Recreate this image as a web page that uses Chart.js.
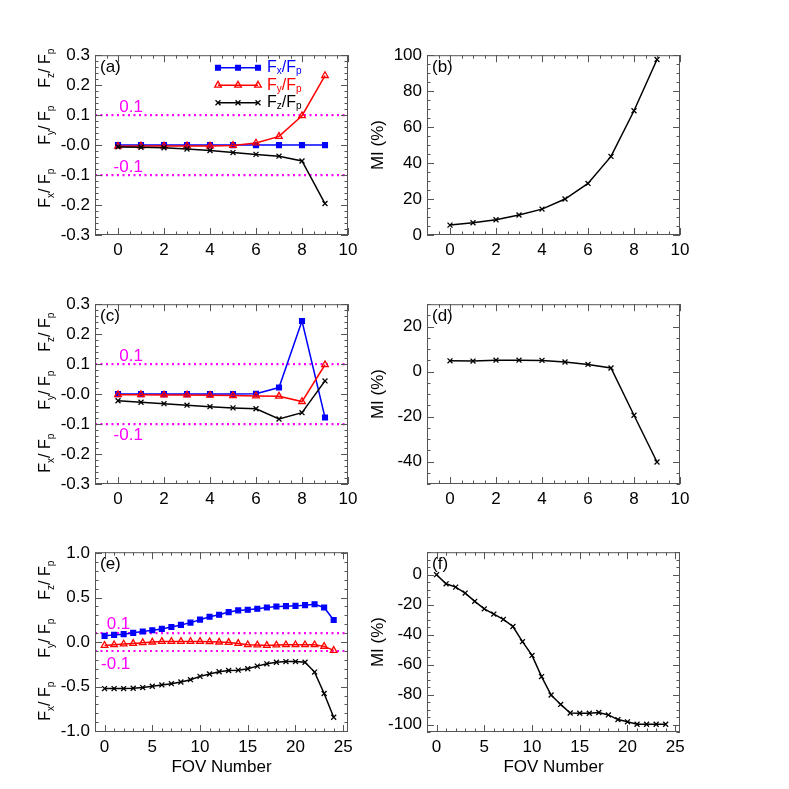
<!DOCTYPE html>
<html>
<head>
<meta charset="utf-8">
<script src="https://cdn.jsdelivr.net/npm/chart.js@4.4.1/dist/chart.umd.min.js"></script>
<style>
  body { margin: 0; background: #fff; }
  #wrap { position: relative; width: 789px; height: 789px; overflow: hidden; }
  #wrap canvas { position: absolute; }
</style>
</head>
<body>
<div id="wrap"></div>
<script>
// ---- data ----
const fovShort = [0, 1, 2, 3, 4, 5, 6, 7, 8, 9];
const fovLong = [0, 1, 2, 3, 4, 5, 6, 7, 8, 9, 10, 11, 12, 13, 14, 15, 16, 17, 18, 19, 20, 21, 22, 23, 24];

// panel (a)
const fxA = [0.000, 0.000, 0.000, 0.000, 0.000, 0.000, 0.000, 0.000, 0.000, 0.000];
const fyA = [-0.004, -0.003, -0.003, -0.003, -0.003, -0.001, 0.007, 0.029, 0.098, 0.232];
const fzA = [-0.006, -0.007, -0.009, -0.013, -0.018, -0.025, -0.031, -0.037, -0.053, -0.195];
// panel (b)
const miB = [5.5, 6.8, 8.5, 11.1, 14.4, 20.0, 28.7, 43.7, 69.1, 97.6];
// panel (c)
const fxC = [0.000, 0.000, 0.000, 0.000, 0.000, 0.000, 0.001, 0.022, 0.244, -0.078];
const fyC = [-0.002, -0.002, -0.003, -0.003, -0.004, -0.005, -0.006, -0.007, -0.025, 0.098];
const fzC = [-0.022, -0.027, -0.032, -0.037, -0.042, -0.046, -0.049, -0.083, -0.062, 0.044];
// panel (d)
const miD = [4.8, 4.7, 5.1, 5.1, 5.0, 4.3, 3.2, 1.6, -19.4, -40.2];
// panel (e)
const fxE = [0.070, 0.081, 0.089, 0.104, 0.119, 0.133, 0.148, 0.170, 0.193, 0.219, 0.252, 0.285, 0.307,
             0.337, 0.356, 0.363, 0.374, 0.389, 0.400, 0.404, 0.407, 0.415, 0.426, 0.389, 0.248];
const fyE = [-0.037, -0.030, -0.022, -0.015, -0.007, 0.000, 0.007, 0.007, 0.007, 0.007, 0.007, 0.004, 0.000,
             -0.004, -0.015, -0.030, -0.033, -0.037, -0.033, -0.030, -0.030, -0.030, -0.030, -0.048, -0.093];
const fzE = [-0.522, -0.522, -0.522, -0.519, -0.511, -0.496, -0.481, -0.467, -0.448, -0.422, -0.385, -0.359, -0.333,
             -0.319, -0.315, -0.300, -0.270, -0.244, -0.226, -0.219, -0.219, -0.226, -0.337, -0.578, -0.844];
// panel (f)
const miF = [0.0, -6.1, -8.3, -12.3, -17.8, -22.8, -26.3, -29.8, -34.6, -44.7, -53.9, -68.0, -80.3,
             -86.6, -92.3, -92.5, -92.5, -92.0, -93.6, -96.7, -98.2, -99.8, -99.8, -99.8, -99.8];

// threshold lines
const levels = [0.1, -0.1];
const levelLabels = ['0.1', '-0.1'];

// ticks
const xTicksShort = [0, 2, 4, 6, 8, 10];
const xTicksLong = [0, 5, 10, 15, 20, 25];
const yTicksSmall = [-0.3, -0.2, -0.1, 0, 0.1, 0.2, 0.3];
const yLabelsSmall = ['-0.3', '-0.2', '-0.1', '-0.0', '0.1', '0.2', '0.3'];
const yTicksBig = [-1, -0.5, 0, 0.5, 1];
const yLabelsBig = ['-1.0', '-0.5', '0.0', '0.5', '1.0'];
const yTicksB = [0, 20, 40, 60, 80, 100];
const yTicksD = [-40, -20, 0, 20];
const yTicksF = [-100, -80, -60, -40, -20, 0];

const FONT = '"Liberation Sans", Arial, Helvetica, sans-serif';
Chart.defaults.font.family = FONT;
Chart.defaults.font.size = 17;
Chart.defaults.color = '#000';

const colLeft = [95, 427], colW = 253;
const rowTop = [54, 303, 551], rowH = 181;

function subText(ctx, parts, x, y, size, align) {
  const big = size + 'px ' + FONT, small = Math.round(size * 0.65) + 'px ' + FONT;
  let w = 0;
  parts.forEach(([t, s]) => { ctx.font = s ? small : big; w += ctx.measureText(t).width; });
  let cx = align === 'center' ? x - w / 2 : x;
  ctx.textAlign = 'left';
  parts.forEach(([t, s]) => {
    ctx.font = s ? small : big;
    ctx.fillText(t, cx, s ? y + size * 0.25 : y);
    cx += ctx.measureText(t).width;
  });
}
const fPartsTitle = c => [['F', 0], [c, 1], ['/ F', 0], ['p', 1]];
const fPartsLegend = c => [['F', 0], [c, 1], ['/F', 0], ['p', 1]];

const seriesStyle = {
  x: { color: '#0000ff', pointStyle: 'rect', radius: 3.4, fill: '#0000ff' },
  y: { color: '#ff0000', pointStyle: 'triangle', radius: 3.8, fill: 'rgba(0,0,0,0)' },
  z: { color: '#000000', pointStyle: 'crossRot', radius: 3.5, fill: '#000' }
};

const framePlugin = {
  id: 'frame',
  afterDraw(chart, args, o) {
    const ctx = chart.ctx, a = chart.chartArea, p = o.panel;
    const xs = chart.scales.x, ys = chart.scales.y;
    ctx.save();
    // ticks on all four sides
    ctx.strokeStyle = '#555';
    ctx.lineWidth = 1;
    ctx.beginPath();
    const tickX = (v, len) => {
      const px = Math.round(xs.getPixelForValue(v)) + 0.5;
      ctx.moveTo(px, a.bottom); ctx.lineTo(px, a.bottom - len);
      ctx.moveTo(px, a.top); ctx.lineTo(px, a.top + len);
    };
    const tickY = (v, len) => {
      const py = Math.round(ys.getPixelForValue(v)) + 0.5;
      ctx.moveTo(a.left, py); ctx.lineTo(a.left + len, py);
      ctx.moveTo(a.right, py); ctx.lineTo(a.right - len, py);
    };
    for (let v = Math.ceil(p.xMin / p.xMinor) * p.xMinor; v <= p.xMax + 1e-9; v += p.xMinor) tickX(v, 3.5);
    for (let v = Math.ceil(p.yMin / p.yMinor) * p.yMinor; v <= p.yMax + 1e-9; v += p.yMinor) tickY(v, 3.5);
    p.xTicks.forEach(v => tickX(v, 7));
    p.yTicks.forEach(v => tickY(v, 7));
    ctx.stroke();
    ctx.strokeRect(a.left + 0.5, a.top + 0.5, a.right - a.left - 1, a.bottom - a.top - 1);

    // panel letter
    ctx.fillStyle = '#000';
    ctx.font = '17px ' + FONT;
    ctx.textAlign = 'left';
    ctx.textBaseline = 'middle';
    ctx.fillText(p.letter, a.left + 5, a.top + 12);

    // y titles
    if (p.kind === 'F') {
      ['z', 'y', 'x'].forEach((c, i) => {
        ctx.save();
        ctx.translate(a.left - 45, a.top + p.titleOff[i]);
        ctx.rotate(-Math.PI / 2);
        ctx.textBaseline = 'alphabetic';
        subText(ctx, fPartsTitle(c), 0, 0, 16, 'center');
        ctx.restore();
      });
      // threshold labels
      ctx.fillStyle = '#ff00ff';
      ctx.font = '17px ' + FONT;
      ctx.textAlign = 'right';
      ctx.textBaseline = 'middle';
      levels.forEach((lv, i) => {
        const py = ys.getPixelForValue(lv) + p.levelOff[i];
        ctx.fillText(levelLabels[i], xs.getPixelForValue(p.levelX), py);
      });
    } else {
      ctx.save();
      ctx.translate(a.left - 49, (a.top + a.bottom) / 2);
      ctx.rotate(-Math.PI / 2);
      ctx.textAlign = 'center';
      ctx.textBaseline = 'middle';
      ctx.font = '17px ' + FONT;
      ctx.fillText('MI (%)', 0, 0);
      ctx.restore();
    }

    if (p.xTitle) {
      ctx.fillStyle = '#000';
      ctx.font = '17px ' + FONT;
      ctx.textAlign = 'center';
      ctx.textBaseline = 'middle';
      ctx.fillText('FOV Number', (a.left + a.right) / 2, a.bottom + 35);
    }

    // legend (panel a only)
    if (p.legend) {
      ['x', 'y', 'z'].forEach((c, i) => {
        const st = seriesStyle[c];
        const y = a.top + 12.5 + i * 17.5;
        const x0 = a.left + 123, x1 = a.left + 163;
        ctx.strokeStyle = st.color;
        ctx.fillStyle = st.fill;
        ctx.lineWidth = 1.5;
        ctx.beginPath(); ctx.moveTo(x0, y); ctx.lineTo(x1, y); ctx.stroke();
        [x0, (x0 + x1) / 2, x1].forEach(mx => {
          ctx.lineWidth = 1.3;
          Chart.helpers.drawPoint(ctx, { pointStyle: st.pointStyle, radius: st.radius, rotation: 0, borderWidth: 1.3 }, mx, y);
        });
        ctx.fillStyle = st.color;
        ctx.textBaseline = 'middle';
        subText(ctx, fPartsLegend(c), a.left + 172, y, 16, 'left');
      });
    }
    ctx.restore();
  }
};

function makePanel(p) {
  const L = p.col === 0 ? 95 : 70, T = 14, R = 22, B = 56;
  const cv = document.createElement('canvas');
  cv.width = colW + L + R;
  cv.height = rowH + T + B;
  cv.style.left = (colLeft[p.col] - L) + 'px';
  cv.style.top = (rowTop[p.row] - T) + 'px';
  cv.style.width = cv.width + 'px';
  cv.style.height = cv.height + 'px';
  document.getElementById('wrap').appendChild(cv);

  const datasets = [];
  p.series.forEach(([c, vals], i) => {
    const st = seriesStyle[c];
    datasets.push({
      data: p.x.map((x, k) => ({ x: x, y: vals[k] })),
      borderColor: st.color,
      backgroundColor: st.fill,
      borderWidth: 1.5,
      pointStyle: st.pointStyle,
      pointRadius: st.radius,
      pointBorderWidth: 1.3,
      pointBorderColor: st.color,
      pointBackgroundColor: st.fill,
      tension: 0,
      order: 3 - i
    });
  });
  if (p.kind === 'F') {
    levels.forEach(lv => datasets.push({
      data: [{ x: p.xMin, y: lv }, { x: p.xMax, y: lv }],
      borderColor: '#ff00ff',
      borderWidth: 2.2,
      borderDash: [2, 3.5],
      pointRadius: 0,
      order: 10
    }));
  }

  new Chart(cv.getContext('2d'), {
    type: 'line',
    data: { datasets: datasets },
    options: {
      responsive: false,
      animation: false,
      devicePixelRatio: 1,
      layout: { padding: { left: 0, top: T, right: R, bottom: 0 } },
      plugins: { legend: { display: false }, tooltip: { enabled: false }, frame: { panel: p } },
      scales: {
        x: {
          type: 'linear', min: p.xMin, max: p.xMax,
          grid: { display: false, drawTicks: false }, border: { display: false },
          afterBuildTicks: s => { s.ticks = p.xTicks.map(v => ({ value: v })); },
          afterFit: s => { s.height = B; },
          ticks: { padding: 5, autoSkip: false, maxRotation: 0, color: '#000', font: { size: 17 },
                   callback: v => String(v) }
        },
        y: {
          type: 'linear', min: p.yMin, max: p.yMax,
          grid: { display: false, drawTicks: false }, border: { display: false },
          afterBuildTicks: s => { s.ticks = p.yTicks.map(v => ({ value: v })); },
          afterFit: s => { s.width = L; },
          ticks: { padding: 5, autoSkip: false, color: '#000', font: { size: 17 },
                   callback: (v, i) => p.yLabels[i] }
        }
      }
    },
    plugins: [framePlugin]
  });
}

const panels = [
  { letter: '(a)', col: 0, row: 0, kind: 'F', x: fovShort, series: [['x', fxA], ['y', fyA], ['z', fzA]],
    xMin: -1, xMax: 10, xTicks: xTicksShort, xMinor: 0.5,
    yMin: -0.3, yMax: 0.3, yTicks: yTicksSmall, yLabels: yLabelsSmall, yMinor: 0.02,
    titleOff: [13, 70, 133], levelX: 1.08, levelOff: [-8, -8], legend: true },
  { letter: '(b)', col: 1, row: 0, kind: 'MI', x: fovShort, series: [['z', miB]],
    xMin: -1, xMax: 10, xTicks: xTicksShort, xMinor: 0.5,
    yMin: 0, yMax: 100, yTicks: yTicksB, yLabels: yTicksB.map(String), yMinor: 5 },
  { letter: '(c)', col: 0, row: 1, kind: 'F', x: fovShort, series: [['x', fxC], ['y', fyC], ['z', fzC]],
    xMin: -1, xMax: 10, xTicks: xTicksShort, xMinor: 0.5,
    yMin: -0.3, yMax: 0.3, yTicks: yTicksSmall, yLabels: yLabelsSmall, yMinor: 0.02,
    titleOff: [28, 86, 149], levelX: 1.08, levelOff: [-8, 11] },
  { letter: '(d)', col: 1, row: 1, kind: 'MI', x: fovShort, series: [['z', miD]],
    xMin: -1, xMax: 10, xTicks: xTicksShort, xMinor: 0.5,
    yMin: -50, yMax: 30, yTicks: yTicksD, yLabels: yTicksD.map(String), yMinor: 5 },
  { letter: '(e)', col: 0, row: 2, kind: 'F', x: fovLong, series: [['x', fxE], ['y', fyE], ['z', fzE]],
    xMin: -1, xMax: 25.5, xTicks: xTicksLong, xMinor: 1,
    yMin: -1.01, yMax: 1.01, yTicks: yTicksBig, yLabels: yLabelsBig, yMinor: 0.1,
    titleOff: [28, 86, 149], levelX: 2.7, levelOff: [-9, 13], xTitle: true },
  { letter: '(f)', col: 1, row: 2, kind: 'MI', x: fovLong, series: [['z', miF]],
    xMin: -1, xMax: 25.5, xTicks: xTicksLong, xMinor: 1,
    yMin: -105, yMax: 15, yTicks: yTicksF, yLabels: yTicksF.map(String), yMinor: 5, xTitle: true }
];

panels.forEach(makePanel);
</script>
</body>
</html>
